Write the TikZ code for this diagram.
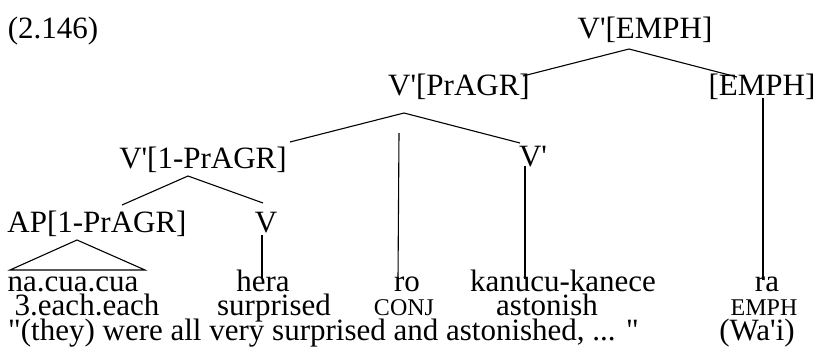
\documentclass[tikz,border=0pt]{standalone}
\usepackage{fontspec}
\setmainfont{Liberation Serif}[Ligatures=TeXOff]
\usepackage{tikz}
\usetikzlibrary{positioning}

\begin{document}
\begin{tikzpicture}[x=1pt,y=-1pt,
    lbl/.style={inner sep=0pt,anchor=base,font=\fontsize{31}{36}\selectfont},
    gl/.style={lbl,font=\fontsize{24}{28}\selectfont},
    branch/.style={line width=1.1pt}]
    \useasboundingbox (0,0) rectangle (817,362);

    % Example number
    \node[lbl] (num) at (53,38) {(2.146)};

    % Tree labels
    \node[lbl] (vemph) at (645,38) {V'[EMPH]};
    \node[lbl] (vpragr) at (459,95) {V'[PrAGR]};
    \node[lbl] (emph) at (762,95) {[EMPH]};
    \node[lbl] (vonepr) at (203,168) {V'[1-PrAGR]};
    \node[lbl] (vbar) at (533,166) {V'};
    \node[lbl] (ap) at (97,232) {AP[1-PrAGR]};
    \node[lbl] (v) at (266,232) {V};

    % Words, glosses and translation
    \node[lbl] (w1) at (73,291) {na.cua.cua};
    \node[lbl] (w2) at (263,291) {hera};
    \node[lbl] (w3) at (407,291) {ro};
    \node[lbl] (w4) at (563,291) {kanucu-kanece};
    \node[lbl] (w5) at (767,291) {ra};
    \node[lbl] (g1) at (87,315) {3.each.each};
    \node[lbl] (g2) at (274,315) {surprised};
    \node[gl] (g3) at (404,315) {CONJ};
    \node[lbl] (g4) at (547,315) {astonish};
    \node[gl] (g5) at (764,315) {EMPH};
    \node[lbl,anchor=base west] (tr) at (8,340) {"(they) were all very surprised and astonished, ... "};
    \node[lbl] (src) at (757,340) {(Wa'i)};

    % Branches
    \draw[branch] ([shift={(64,-19)}]vpragr.base) -- ([shift={(-16,11)}]vemph.base) -- ([shift={(-25,-18)}]emph.base);
    \draw[branch] ([shift={(87,-26)}]vonepr.base) -- ([shift={(-55,18)}]vpragr.base) -- ([shift={(-13,-23)}]vbar.base);
    \draw[branch] ([shift={(-60,38)}]vpragr.base) -- ([shift={(-9,-12)}]w3.base);
    \draw[branch] ([shift={(-8,0)}]vbar.base) -- ([shift={(-38,-12)}]w4.base);
    \draw[branch] ([shift={(1,3)}]emph.base) -- ([shift={(-4,-11)}]w5.base);
    \draw[branch] ([shift={(25,-27)}]ap.base) -- ([shift={(-15,8)}]vonepr.base) -- ([shift={(-3,-29)}]v.base);
    \draw[branch] ([shift={(-4,3)}]v.base) -- ([shift={(-1,-12)}]w2.base);

    % Roof over the AP
    \draw[branch] ([shift={(-20,8)}]ap.base) -- ([shift={(-63,-21)}]w1.base) -- ([shift={(72,-21)}]w1.base) -- cycle;
\end{tikzpicture}
\end{document}
